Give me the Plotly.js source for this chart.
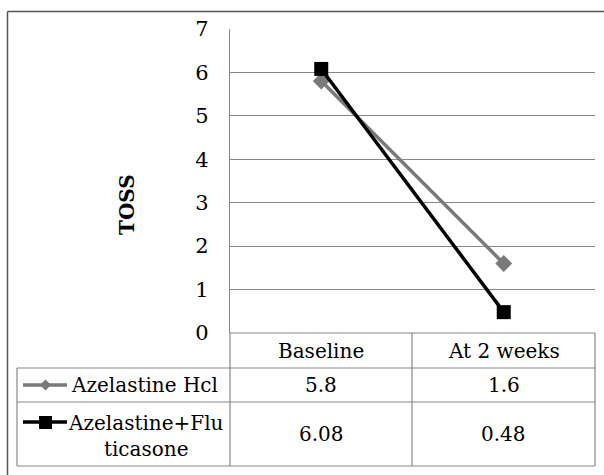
<!DOCTYPE html>
<html>
<head>
<meta charset="utf-8">
<script src="https://cdn.plot.ly/plotly-3.0.1.min.js"></script>
<style>html,body{margin:0;padding:0;background:#fff;}#chart{width:604px;height:475px;}</style>
</head>
<body>
<div id="chart"></div>
<script>
var categories = ["Baseline", "At 2 weeks"];
var seriesNames = ["Azelastine Hcl", "Azelastine+Flu<br>ticasone"];
var azelastineHcl = [5.8, 1.6];
var azelastineFluticasone = [6.08, 0.48];
var yTicks = [0, 1, 2, 3, 4, 5, 6, 7];

var W = 604, H = 475;
var L = 230, R = 595, T = 29, B = 333;
function px(x) { return (x - L) / (R - L); }
function py(y) { return (B - y) / (B - T); }

var FONT = "'DejaVu Serif', 'Liberation Serif', serif";
var grid = "#888888";
var greyC = "#7a7a7a";

var traces = [
  { x: categories, y: azelastineHcl, type: "scatter", mode: "lines+markers",
    line: { color: greyC, width: 3.5 }, marker: { symbol: "diamond", size: 13, color: greyC },
    cliponaxis: false, showlegend: false },
  { x: categories, y: azelastineFluticasone, type: "scatter", mode: "lines+markers",
    line: { color: "#000000", width: 3.5 }, marker: { symbol: "square", size: 14, color: "#000000" },
    cliponaxis: false, showlegend: false }
];

var shapes = [];
function ln(x0, y0, x1, y1, c, w) {
  shapes.push({ type: "line", xref: "paper", yref: "paper", x0: px(x0), y0: py(y0), x1: px(x1), y1: py(y1),
    line: { color: c, width: w } });
}
// outer border (top & left visible)
ln(7.5, 11.5, 620, 11.5, "#555555", 1.5);
ln(7.5, 11.5, 7.5, 490, "#555555", 1.5);
// table lines
ln(230, 333, 595, 333, grid, 1.2);
ln(17, 368, 595, 368, grid, 1.2);
ln(17, 402, 595, 402, grid, 1.2);
ln(17, 466, 595, 466, grid, 1.2);
ln(17, 368, 17, 466, grid, 1.2);
ln(230, 333, 230, 466, grid, 1.2);
ln(412, 333, 412, 466, grid, 1.2);
ln(595, 333, 595, 466, grid, 1.2);
// legend keys
ln(23, 385, 67, 385, greyC, 3.5);
shapes.push({ type: "path", xref: "paper", yref: "paper",
  path: "M " + px(45.5) + "," + py(379.5) + " L " + px(51) + "," + py(385) + " L " + px(45.5) + "," + py(390.5) + " L " + px(40) + "," + py(385) + " Z",
  fillcolor: greyC, line: { width: 0 } });
ln(23, 422, 67, 422, "#000000", 3.5);
shapes.push({ type: "rect", xref: "paper", yref: "paper", x0: px(39), y0: py(416), x1: px(52), y1: py(429),
  fillcolor: "#000000", line: { width: 0 } });

var annotations = [];
function txt(x, xref, y, text, size, extra) {
  var a = { x: x, xref: xref, y: py(y), yref: "paper", text: text, showarrow: false,
    font: { family: FONT, size: size, color: "#000" }, xanchor: "center", yanchor: "middle" };
  for (var k in extra) a[k] = extra[k];
  annotations.push(a);
}
for (var i = 0; i < categories.length; i++) {
  txt(categories[i], "x", 351, categories[i], 20, {});
  txt(categories[i], "x", 385, String(azelastineHcl[i]), 20, {});
  txt(categories[i], "x", 434, String(azelastineFluticasone[i]), 20, {});
}
txt(px(69), "paper", 385, seriesNames[0], 20, { xanchor: "left" });
txt(px(146), "paper", 436, seriesNames[1], 20, { align: "center" });
txt(px(127), "paper", 205, "<b>TOSS</b>", 20, { textangle: -90 });

var layout = {
  width: W, height: H,
  margin: { l: L, r: W - R, t: T, b: H - B, pad: 0 },
  paper_bgcolor: "#ffffff", plot_bgcolor: "#ffffff",
  font: { family: FONT },
  showlegend: false,
  xaxis: { type: "category", range: [-0.5, 1.5], showticklabels: false, showgrid: false,
    showline: false, zeroline: false, ticks: "" },
  yaxis: { range: [0, 7], tickvals: yTicks, showgrid: true, gridcolor: grid, gridwidth: 1.2,
    showline: true, linecolor: grid, linewidth: 1.2, zeroline: false,
    ticks: "outside", ticklen: 16, tickcolor: "rgba(0,0,0,0)",
    tickfont: { family: FONT, size: 21, color: "#000" } },
  shapes: shapes,
  annotations: annotations
};

Plotly.newPlot("chart", traces, layout, { displayModeBar: false, staticPlot: true });
</script>
</body>
</html>
